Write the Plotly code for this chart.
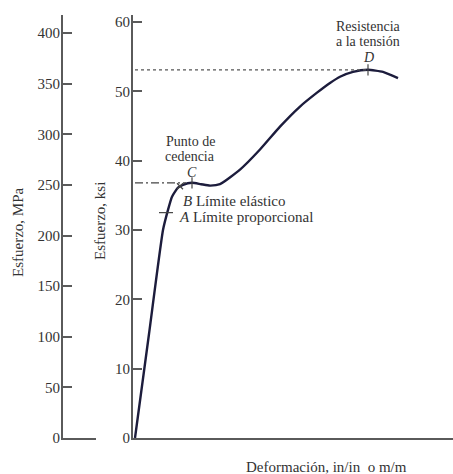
import plotly.graph_objects as go

# Data (strain in arbitrary units, stress in ksi)
strain = [0.000, 0.014, 0.028, 0.033, 0.037, 0.043, 0.048, 0.057, 0.066, 0.075,
          0.085, 0.105, 0.125, 0.145, 0.165, 0.182, 0.195, 0.205, 0.218, 0.233, 0.248, 0.263]
stress_ksi = [0.0, 15.0, 30.0, 32.9, 34.8, 36.1, 36.5, 36.8, 36.6, 36.4,
              36.6, 38.7, 41.6, 44.9, 47.8, 49.8, 51.2, 52.1, 52.8, 53.1, 52.8, 51.9]

ksi_ticks = [0, 10, 20, 30, 40, 50, 60]
mpa_ticks = [0, 50, 100, 150, 200, 250, 300, 350, 400]

yield_ksi = 36.8
yield_strain = 0.057
uts_ksi = 53.1
uts_strain = 0.233
prop_strain, prop_ksi = 0.031, 32.5
elast_strain, elast_ksi = 0.045, 36.3

FONT = "Liberation Serif"
FS = 15
FS_STACK = 14
TXT = "#333333"
AX = "#5a5a5a"

W, H = 453, 474
T, B = 15, 36
PH = H - T - B


def py(pix_y):
    """paper y for a pixel row"""
    return (H - B - pix_y) / PH


fig = go.Figure()

fig.add_trace(go.Scatter(x=strain, y=stress_ksi, mode="lines",
                         line=dict(color="#1c1c3c", width=2.4, shape="spline", smoothing=0.5),
                         hoverinfo="skip", showlegend=False))
# yield reference line (dash-dot)
fig.add_trace(go.Scatter(x=[0, yield_strain - 0.006], y=[yield_ksi, yield_ksi], mode="lines",
                         line=dict(color="#444", width=1.3, dash="8px,3px,2px,3px"),
                         showlegend=False, hoverinfo="skip"))
# UTS reference line (dotted)
fig.add_trace(go.Scatter(x=[0, uts_strain], y=[uts_ksi, uts_ksi], mode="lines",
                         line=dict(color="#555", width=1.2, dash="3px,3px"),
                         showlegend=False, hoverinfo="skip"))
# point marks
fig.add_trace(go.Scatter(x=[yield_strain, uts_strain], y=[yield_ksi, uts_ksi], mode="markers",
                         marker=dict(symbol="line-ns", size=8, line=dict(color="#444", width=1.2)),
                         showlegend=False, hoverinfo="skip"))
fig.add_trace(go.Scatter(x=[prop_strain], y=[prop_ksi], mode="markers",
                         marker=dict(symbol="line-ew", size=10, line=dict(color="#444", width=1.2)),
                         showlegend=False, hoverinfo="skip"))
fig.add_trace(go.Scatter(x=[elast_strain], y=[elast_ksi], mode="markers",
                         marker=dict(symbol="x-thin", size=6, line=dict(color="#444", width=1.2)),
                         showlegend=False, hoverinfo="skip"))

# dummy trace on MPa axis
fig.add_trace(go.Scatter(x=[0], y=[0], xaxis="x2", yaxis="y2", mode="markers",
                         marker=dict(opacity=0), showlegend=False, hoverinfo="skip"))

fig.update_layout(
    width=W, height=H,
    margin=dict(l=0, r=0, t=T, b=B),
    paper_bgcolor="white", plot_bgcolor="white",
    font=dict(family=FONT, size=FS, color=TXT),
    xaxis=dict(domain=[133 / W, 1], range=[-0.002, 0.318], showgrid=False, zeroline=False,
               showline=True, linecolor=AX, linewidth=2, showticklabels=False, ticks="",
               anchor="y"),
    yaxis=dict(range=[0, 61], tickvals=ksi_ticks, showgrid=False, zeroline=False,
               showline=True, linecolor=AX, linewidth=2, ticks="inside", ticklen=9,
               tickcolor=AX, tickwidth=1.5, anchor="x", ticklabelstandoff=-2),
    xaxis2=dict(domain=[63 / W, 96 / W], range=[0, 1], showgrid=False, zeroline=False,
                showline=True, linecolor=AX, linewidth=2, showticklabels=False, ticks="",
                anchor="y2"),
    yaxis2=dict(range=[0, 418], tickvals=mpa_ticks, showgrid=False, zeroline=False,
                showline=True, linecolor=AX, linewidth=2, ticks="inside", ticklen=9,
                tickcolor=AX, tickwidth=1.5, anchor="x2", ticklabelstandoff=-2),
)

stack = dict(family=FONT, size=FS_STACK, color=TXT)
ann = [
    dict(x=0.055, y=42.8, text="Punto de", xref="x", yref="y", showarrow=False, font=stack),
    dict(x=0.055, y=40.55, text="cedencia", xref="x", yref="y", showarrow=False, font=stack),
    dict(x=yield_strain, y=38.3, text="<i>C</i>", xref="x", yref="y", showarrow=False,
         font=stack),
    dict(x=0.047, y=34.2, text="<i>B</i> Límite elástico", xref="x", yref="y",
         showarrow=False, xanchor="left"),
    dict(x=0.043, y=31.9, text="<i>A</i> Límite proporcional", xref="x", yref="y",
         showarrow=False, xanchor="left"),
    dict(x=uts_strain, y=59.4, text="Resistencia", xref="x", yref="y", showarrow=False,
         font=stack),
    dict(x=uts_strain, y=57.15, text="a la tensión", xref="x", yref="y", showarrow=False,
         font=stack),
    dict(x=uts_strain, y=54.9, text="<i>D</i>", xref="x", yref="y", showarrow=False,
         font=stack),
    dict(x=326 / W, y=py(467), text="Deformación, in/in  o m/m", xref="paper",
         yref="paper", showarrow=False, xanchor="center", yanchor="middle"),
    dict(x=18 / W, y=py(233), text="Esfuerzo, MPa", xref="paper", yref="paper",
         showarrow=False, textangle=-90, xanchor="center", yanchor="middle"),
    dict(x=100 / W, y=py(221), text="Esfuerzo, ksi", xref="paper", yref="paper",
         showarrow=False, textangle=-90, xanchor="center", yanchor="middle"),
]
for a in ann:
    a.setdefault("font", dict(family=FONT, size=FS, color=TXT))
    a.setdefault("borderpad", 0)
fig.update_layout(annotations=ann)

fig.write_html("out.html", config={"displayModeBar": False})

# remove default page margin so the figure sits at the window's top-left corner
with open("out.html", encoding="utf-8") as f:
    html = f.read()
html = html.replace("<head>", "<head><style>html,body{margin:0;padding:0;overflow:hidden;}</style>", 1)
with open("out.html", "w", encoding="utf-8") as f:
    f.write(html)
